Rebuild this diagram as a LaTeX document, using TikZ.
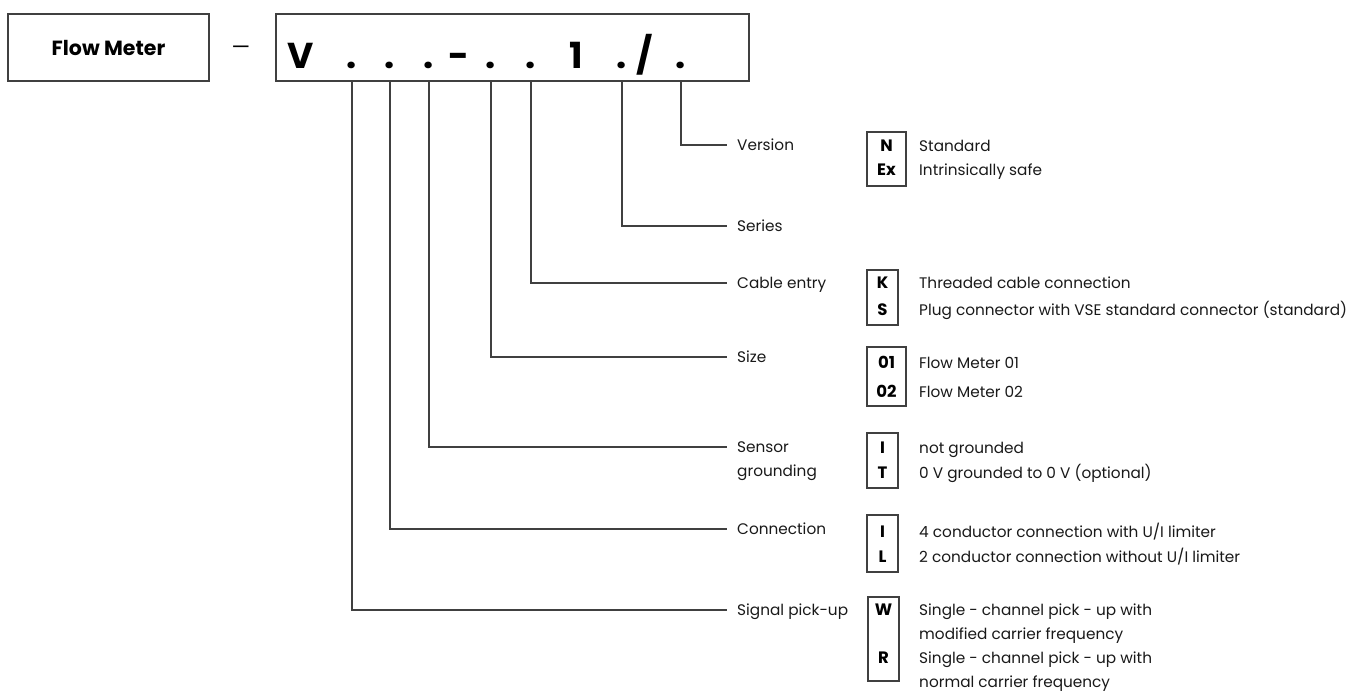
\documentclass[tikz,border=0pt]{standalone}
\usepackage{fontspec}
\setmainfont{Poppins}
\begin{document}
\begin{tikzpicture}[x=1pt,y=-1pt,font=\fontsize{15.3}{24}\selectfont,
  frame/.style={draw=black!75,line width=1.3pt,inner sep=0pt},
  lead/.style={draw=black!75,line width=1.1pt},
  feat/.style={anchor=west,inner sep=0pt,text height=11pt,text depth=0pt,align=left,text=black!90},
  opt/.style={anchor=west,inner sep=0pt,text height=11pt,text depth=0pt,align=left,text=black!90},
  key/.style={inner sep=0pt,text height=11pt,text depth=0pt,font=\fontsize{16.5}{24}\selectfont\bfseries},
  codechar/.style={anchor=base,inner sep=0pt,font=\fontsize{36}{36}\selectfont\bfseries}]
\useasboundingbox (0,0) rectangle (1359,698);
% type code
\node[frame,minimum width=201pt,minimum height=67pt,font=\fontsize{20.5}{20}\selectfont\bfseries] (fm) at (108.5,47.5) {Flow Meter};
\node[anchor=base,inner sep=0pt,font=\fontsize{21}{21}\selectfont] (dash) at (241,55) {—};
\node[frame,minimum width=473pt,minimum height=67pt] (code) at (512.5,47.5) {};
\node[codechar] (cV) at (300.7,69) {V};
\node[codechar] (pick) at (352,69) {.};
\node[codechar] (conn) at (390,69) {.};
\node[codechar] (grnd) at (429,69) {.};
\node[codechar] (cdash) at (459,69) {-};
\node[codechar] (size) at (491,69) {.};
\node[codechar] (cable) at (531,69) {.};
\node[codechar] (cone) at (576,69) {1};
\node[codechar] (series) at (622,69) {.};
\node[codechar] (slash) at (645,69) {/};
\node[codechar] (vers) at (681,69) {.};
% features
\node[feat] (l-vers) at (737,145) {Version};
\node[feat] (l-series) at (737,226) {Series};
\node[feat] (l-cable) at (737,283) {Cable entry};
\node[feat] (l-size) at (737,357) {Size};
\node[feat] (l-grnd) at (737,471) {Sensor\\grounding};
\node[feat] (l-conn) at (737,529) {Connection};
\node[feat] (l-pick) at (737,610) {Signal pick-up};
\draw[lead] (vers |- code.south) |- ([xshift=-10pt]l-vers.west);
\draw[lead] (series |- code.south) |- ([xshift=-10pt]l-series.west);
\draw[lead] (cable |- code.south) |- ([xshift=-10pt]l-cable.west);
\draw[lead] (size |- code.south) |- ([xshift=-10pt]l-size.west);
\draw[lead] (grnd |- code.south) |- ([xshift=-10pt,yshift=24pt]l-grnd.west);
\draw[lead] (conn |- code.south) |- ([xshift=-10pt]l-conn.west);
\draw[lead] (pick |- code.south) |- ([xshift=-10pt]l-pick.west);
% options: version
\node[frame,minimum width=39pt,minimum height=54pt] (b-vers) at (886.5,159) {};
\node[key] (k-n) at (886.5,146) {N};
\node[key] (k-ex) at (886.5,170) {Ex};
\node[opt] (o-n) at (919,146) {Standard};
\node[opt] (o-ex) at (919,170) {Intrinsically safe};
% options: cable entry
\node[frame,minimum width=31pt,minimum height=55pt] (b-cable) at (882.5,297.5) {};
\node[key] (k-k) at (882.5,283) {K};
\node[key] (k-s) at (882.5,310) {S};
\node[opt] (o-k) at (919,283) {Threaded cable connection};
\node[opt] (o-s) at (919,310) {Plug connector with VSE standard connector (standard)};
% options: size
\node[frame,minimum width=39pt,minimum height=59pt] (b-size) at (886.5,376.5) {};
\node[key] (k-01) at (886.5,363) {01};
\node[key] (k-02) at (886.5,392) {02};
\node[opt] (o-01) at (919,363) {Flow Meter 01};
\node[opt] (o-02) at (919,392) {Flow Meter 02};
% options: sensor grounding
\node[frame,minimum width=31pt,minimum height=55pt] (b-grnd) at (882.5,460.5) {};
\node[key] (k-i1) at (882.5,448) {I};
\node[key] (k-t) at (882.5,473) {T};
\node[opt] (o-i1) at (919,448) {not grounded};
\node[opt] (o-t) at (919,473) {0 V grounded to 0 V (optional)};
% options: connection
\node[frame,minimum width=31pt,minimum height=57pt] (b-conn) at (882.5,543.5) {};
\node[key] (k-i2) at (882.5,532) {I};
\node[key] (k-l) at (882.5,557) {L};
\node[opt] (o-i2) at (919,532) {4 conductor connection with U/I limiter};
\node[opt] (o-l) at (919,557) {2 conductor connection without U/I limiter};
% options: signal pick-up
\node[frame,minimum width=31pt,minimum height=84pt] (b-pick) at (883.5,639) {};
\node[key] (k-w) at (883.5,610) {W};
\node[key] (k-r) at (883.5,658) {R};
\node[opt] (o-w) at (919,634) {Single - channel pick - up with\\modified carrier frequency};
\node[opt] (o-r) at (919,682) {Single - channel pick - up with\\normal carrier frequency};
\end{tikzpicture}
\end{document}
